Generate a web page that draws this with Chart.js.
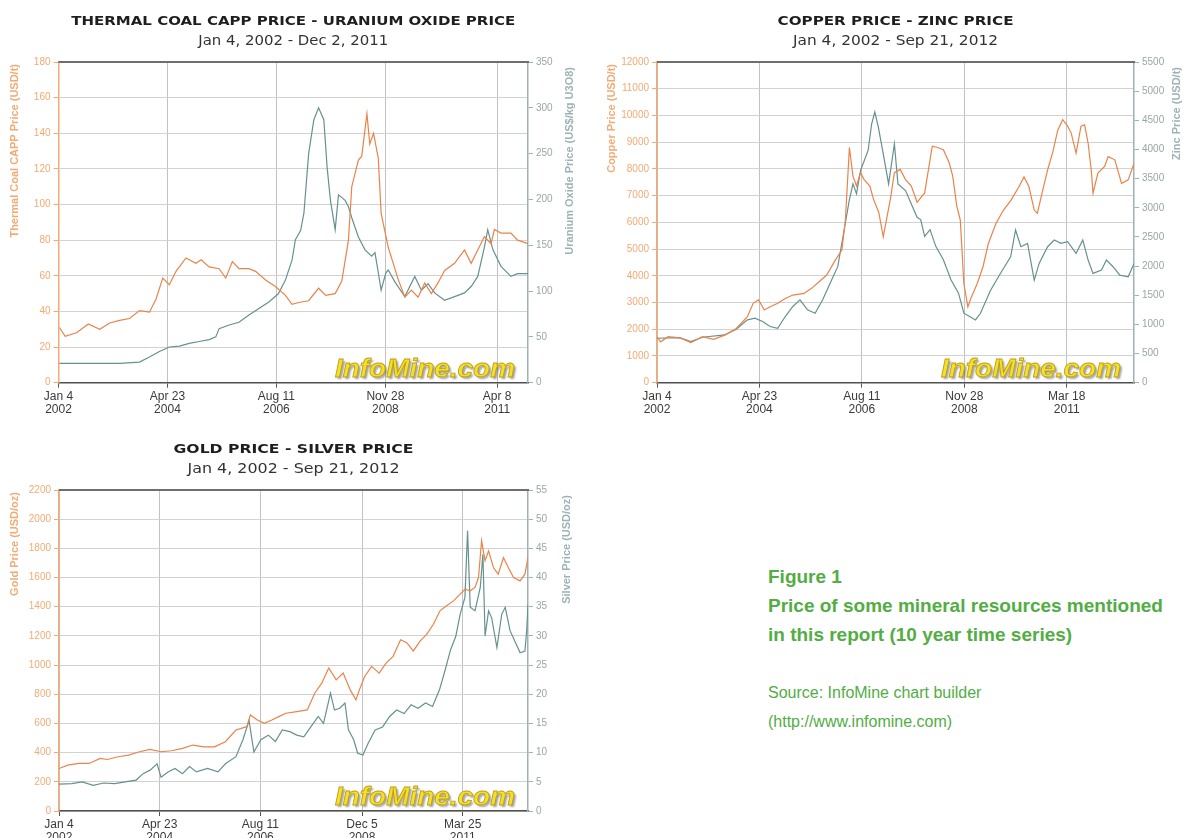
<!DOCTYPE html>
<html>
<head>
<meta charset="utf-8">
<title>Price of some mineral resources</title>
<script src="https://cdn.jsdelivr.net/npm/chart.js@4.4.1/dist/chart.umd.min.js"></script>
<style>
  html, body { margin: 0; padding: 0; background: #fff; }
  body { width: 1183px; height: 838px; position: relative; overflow: hidden; }
  canvas { position: absolute; }
  .cap { position: absolute; left: 768px; color: #52ad44; font-family: "Liberation Sans", Arial, sans-serif; white-space: nowrap; line-height: 29px; }
  .cap.b { font-weight: bold; font-size: 19px; }
  .cap.r { font-size: 16px; }
</style>
</head>
<body>
<canvas id="coalChart" width="590" height="420" style="left:0;top:0"></canvas>
<canvas id="copperChart" width="583" height="420" style="left:600px;top:0"></canvas>
<canvas id="goldChart" width="590" height="418" style="left:0;top:420px"></canvas>

<div class="cap b" style="top:562px">Figure 1</div>
<div class="cap b" style="top:591px">Price of some mineral resources mentioned</div>
<div class="cap b" style="top:620px">in this report (10 year time series)</div>
<div class="cap r" style="top:678px">Source: InfoMine chart builder</div>
<div class="cap r" style="top:707px">(http://www.infomine.com)</div>

<script>
// ---- Datos (fecha en años decimales) ----

// Thermal coal CAPP (USD/t) / uranium oxide (US$/kg)
const coalDates = [2002.03, 2002.15, 2002.39, 2002.64, 2002.88, 2003.09, 2003.3, 2003.51, 2003.72, 2003.93,
  2004.07, 2004.21, 2004.35, 2004.49, 2004.7, 2004.91, 2005.02, 2005.19, 2005.4, 2005.54,
  2005.68, 2005.82, 2006.03, 2006.17, 2006.38, 2006.59, 2006.8, 2006.94, 2007.08, 2007.29,
  2007.5, 2007.65, 2007.85, 2007.99, 2008.13, 2008.2, 2008.34, 2008.41, 2008.52, 2008.58,
  2008.66, 2008.76, 2008.82, 2008.97, 2009.18, 2009.32, 2009.46, 2009.6, 2009.74, 2009.88,
  2010.02, 2010.16, 2010.37, 2010.58, 2010.72, 2010.86, 2011.0, 2011.14, 2011.21, 2011.35,
  2011.56, 2011.7, 2011.92];
const coalPrice = [31, 26, 28, 33, 30, 33.5, 35, 36, 40.5, 39.6,
  47, 58.7, 55, 62.5, 70, 67, 69, 65, 64, 58.7,
  68, 64, 64, 62.5, 57.7, 54, 49, 44, 45, 46,
  53, 49, 50, 57, 80, 110, 125, 127, 151, 134,
  140, 126, 95, 76, 58, 48, 52, 48, 56, 50,
  56, 63, 67, 74.5, 67, 74.5, 82, 78, 86, 84,
  84, 80, 78];

const uraniumDates = [2002.03, 2002.5, 2003.0, 2003.3, 2003.72, 2003.93, 2004.14, 2004.35, 2004.56, 2004.77,
  2004.98, 2005.19, 2005.33, 2005.4, 2005.61, 2005.82, 2006.03, 2006.24, 2006.45, 2006.65,
  2006.8, 2006.94, 2007.01, 2007.12, 2007.19, 2007.29, 2007.4, 2007.5, 2007.61, 2007.68,
  2007.75, 2007.85, 2007.92, 2008.06, 2008.13, 2008.2, 2008.34, 2008.48, 2008.62, 2008.69,
  2008.76, 2008.82, 2008.92, 2008.97, 2009.11, 2009.32, 2009.53, 2009.67, 2009.81, 2009.95,
  2010.16, 2010.37, 2010.58, 2010.72, 2010.86, 2011.0, 2011.07, 2011.18, 2011.35, 2011.56,
  2011.7, 2011.92];
const uraniumPrice = [21, 21, 21, 21, 22.5, 28, 34, 39, 40, 43,
  45, 47, 50, 59, 63, 66, 74, 81, 88, 97,
  112, 134, 156, 166, 185, 250, 287, 300, 287, 235,
  199, 167, 205, 199, 192, 180, 159, 145, 138, 142,
  120, 101, 120, 123, 110, 94, 116, 101, 108, 98,
  90, 94, 98, 105, 116, 148, 167, 145, 127, 116,
  119, 119];

// Copper (USD/t) / zinc (USD/t)
const copperDates = [2002.01, 2002.09, 2002.26, 2002.52, 2002.77, 2003.03, 2003.28, 2003.53, 2003.79, 2004.04,
  2004.17, 2004.29, 2004.42, 2004.55, 2004.72, 2004.89, 2005.06, 2005.31, 2005.48, 2005.65,
  2005.82, 2005.99, 2006.16, 2006.24, 2006.33, 2006.41, 2006.49, 2006.58, 2006.66, 2006.79,
  2006.87, 2006.99, 2007.09, 2007.25, 2007.34, 2007.47, 2007.59, 2007.72, 2007.85, 2008.02,
  2008.19, 2008.31, 2008.44, 2008.57, 2008.65, 2008.74, 2008.82, 2008.9, 2008.99, 2009.07,
  2009.2, 2009.33, 2009.45, 2009.62, 2009.79, 2009.96, 2010.14, 2010.25, 2010.36, 2010.48,
  2010.55, 2010.67, 2010.78, 2010.89, 2011.01, 2011.12, 2011.23, 2011.31, 2011.42, 2011.53,
  2011.61, 2011.69, 2011.76, 2011.8, 2011.91, 2012.06, 2012.14, 2012.29, 2012.44, 2012.59,
  2012.72];
const copperPrice = [1720, 1530, 1720, 1680, 1500, 1720, 1620, 1780, 2030, 2470,
  2970, 3100, 2720, 2840, 2970, 3150, 3280, 3340, 3530, 3780,
  4030, 4520, 4960, 6080, 8800, 7730, 7360, 7860, 7600, 7360,
  6870, 6370, 5460, 6870, 7860, 7980, 7600, 7360, 6750, 7100,
  8850, 8800, 8720, 8230, 7730, 6620, 6080, 3710, 2840, 3210,
  3710, 4340, 5210, 5960, 6460, 6830, 7340, 7700, 7340, 6460,
  6340, 7200, 7960, 8590, 9460, 9840, 9600, 9340, 8590, 9600,
  9650, 8960, 7960, 7090, 7840, 8090, 8460, 8340, 7460, 7590,
  8200];

const zincDates = [2002.01, 2002.52, 2002.77, 2003.03, 2003.53, 2003.79, 2004.04, 2004.21, 2004.38, 2004.55,
  2004.72, 2004.89, 2005.06, 2005.22, 2005.39, 2005.56, 2005.73, 2005.9, 2006.07, 2006.2,
  2006.33, 2006.41, 2006.49, 2006.58, 2006.75, 2006.83, 2006.9, 2006.98, 2007.09, 2007.21,
  2007.34, 2007.42, 2007.59, 2007.72, 2007.85, 2007.93, 2008.02, 2008.14, 2008.27, 2008.44,
  2008.61, 2008.78, 2008.9, 2009.03, 2009.16, 2009.27, 2009.5, 2009.72, 2009.95, 2010.06,
  2010.18, 2010.33, 2010.48, 2010.59, 2010.78, 2010.93, 2011.08, 2011.23, 2011.42, 2011.57,
  2011.69, 2011.8, 2011.99, 2012.1, 2012.25, 2012.4, 2012.59, 2012.72];
const zincPrice = [762, 774, 705, 779, 819, 917, 1077, 1106, 1049, 963,
  934, 1135, 1307, 1421, 1249, 1192, 1421, 1708, 1994, 2567,
  3140, 3410, 3238, 3639, 3983, 4441, 4642, 4384, 3926, 3410,
  4097, 3410, 3295, 3066, 2837, 2797, 2510, 2625, 2338, 2109,
  1765, 1536, 1192, 1135, 1077, 1186, 1587, 1874, 2160, 2619,
  2332, 2390, 1759, 2046, 2332, 2447, 2390, 2418, 2218, 2447,
  2103, 1874, 1931, 2103, 1989, 1845, 1817, 2046];

// Gold (USD/oz) / silver (USD/oz)
const goldDates = [2002.01, 2002.21, 2002.46, 2002.7, 2002.95, 2003.11, 2003.36, 2003.6, 2003.85, 2004.09,
  2004.34, 2004.58, 2004.83, 2005.07, 2005.32, 2005.56, 2005.81, 2006.05, 2006.3, 2006.38,
  2006.54, 2006.7, 2006.87, 2007.03, 2007.19, 2007.44, 2007.68, 2007.85, 2008.01, 2008.17,
  2008.34, 2008.5, 2008.66, 2008.79, 2008.87, 2008.99, 2009.15, 2009.32, 2009.48, 2009.64,
  2009.81, 2009.95, 2010.1, 2010.26, 2010.41, 2010.56, 2010.71, 2010.86, 2011.02, 2011.17,
  2011.28, 2011.4, 2011.51, 2011.59, 2011.66, 2011.74, 2011.82, 2011.93, 2012.04, 2012.16,
  2012.27, 2012.39, 2012.54, 2012.65, 2012.72];
const goldPrice = [291, 314, 326, 326, 360, 353, 372, 383, 406, 422,
  406, 413, 429, 452, 440, 440, 475, 555, 578, 658,
  624, 601, 624, 647, 670, 681, 693, 807, 876, 980,
  899, 945, 830, 762, 830, 922, 991, 945, 1014, 1060,
  1174, 1154, 1097, 1166, 1212, 1280, 1372, 1406, 1440, 1486,
  1520, 1509, 1532, 1600, 1852, 1715, 1783, 1669, 1623, 1737,
  1669, 1600, 1577, 1623, 1737];

const silverDates = [2002.01, 2002.3, 2002.54, 2002.79, 2003.03, 2003.28, 2003.52, 2003.77, 2003.93, 2004.09,
  2004.25, 2004.34, 2004.5, 2004.66, 2004.83, 2004.99, 2005.15, 2005.4, 2005.64, 2005.81,
  2006.05, 2006.21, 2006.35, 2006.46, 2006.62, 2006.79, 2006.95, 2007.11, 2007.28, 2007.44,
  2007.6, 2007.76, 2007.93, 2008.05, 2008.21, 2008.3, 2008.42, 2008.54, 2008.62, 2008.74,
  2008.83, 2008.95, 2009.07, 2009.23, 2009.4, 2009.56, 2009.72, 2009.89, 2010.05, 2010.21,
  2010.38, 2010.54, 2010.7, 2010.83, 2010.95, 2011.07, 2011.17, 2011.28, 2011.34, 2011.4,
  2011.51, 2011.63, 2011.69, 2011.74, 2011.82, 2011.89, 2012.01, 2012.12, 2012.2, 2012.31,
  2012.42, 2012.54, 2012.65, 2012.69, 2012.72];
const silverPrice = [4.6, 4.7, 5.0, 4.4, 4.8, 4.7, 5.0, 5.3, 6.4, 7.0,
  8.1, 5.8, 6.7, 7.3, 6.4, 7.6, 6.7, 7.3, 6.7, 8.1,
  9.3, 12.2, 15.5, 10.1, 12.2, 13.0, 11.9, 13.9, 13.6, 13.0,
  12.7, 14.4, 16.2, 15.0, 20.2, 17.3, 17.6, 18.5, 13.9, 12.2,
  9.9, 9.6, 11.6, 13.9, 14.4, 16.2, 17.3, 16.7, 18.2, 17.6,
  18.5, 17.9, 20.8, 24.2, 27.6, 29.9, 33.7, 36.6, 48, 34.9,
  34.3, 38.3, 44, 30, 34.3, 33.1, 28, 33.7, 34.9, 30.9,
  29.1, 27.1, 27.4, 30.9, 35.4];

// ---- Marcas del eje x ----
const coalTicks = [2002.01, 2004.31, 2006.61, 2008.91, 2011.27];
const coalTickLabels = [['Jan 4', '2002'], ['Apr 23', '2004'], ['Aug 11', '2006'], ['Nov 28', '2008'], ['Apr 8', '2011']];
const copperTicks = [2002.01, 2004.31, 2006.61, 2008.91, 2011.21];
const copperTickLabels = [['Jan 4', '2002'], ['Apr 23', '2004'], ['Aug 11', '2006'], ['Nov 28', '2008'], ['Mar 18', '2011']];
const goldTicks = [2002.01, 2004.31, 2006.61, 2008.93, 2011.23];
const goldTickLabels = [['Jan 4', '2002'], ['Apr 23', '2004'], ['Aug 11', '2006'], ['Dec 5', '2008'], ['Mar 25', '2011']];

// ---- Colores ----
const ORANGE      = '#e9834a';
const TEAL        = '#66918f';
const ORANGE_AXIS = '#f2aa74';
const TEAL_AXIS   = '#9db2b4';
const GRID        = '#d2d2d2';

const pts = (xs, ys) => xs.map((x, i) => ({ x, y: ys[i] }));

// texto centrado, ajustado a un ancho dado
function fitText(ctx, text, x, y, width, font, color) {
    ctx.save();
    ctx.font = font;
    const w = ctx.measureText(text).width;
    ctx.translate(x, y);
    ctx.scale(width / w, 1);
    ctx.fillStyle = color;
    ctx.textAlign = 'center';
    ctx.textBaseline = 'middle';
    ctx.fillText(text, 0, 0);
    ctx.restore();
}

// título vertical (se lee de abajo a arriba), terminando en yTop
function vText(ctx, text, x, yTop, color) {
    ctx.save();
    ctx.font = 'bold 11px "Liberation Sans"';
    ctx.fillStyle = color;
    ctx.translate(x, yTop);
    ctx.rotate(-Math.PI / 2);
    ctx.textAlign = 'right';
    ctx.textBaseline = 'middle';
    ctx.fillText(text, 0, 0);
    ctx.restore();
}

const decor = {
    id: 'decor',
    afterDraw(chart, args, o) {
        const ctx = chart.ctx, a = chart.chartArea;
        const cx = (a.left + a.right) / 2;
        ctx.save();
        ctx.strokeStyle = '#6e6e6e';
        ctx.lineWidth = 2;
        ctx.beginPath();
        ctx.moveTo(a.left, a.top);
        ctx.lineTo(a.right + 1, a.top);
        ctx.stroke();
        ctx.restore();

        fitText(ctx, o.title, cx, a.top - 40, o.titleW, 'bold 13px "DejaVu Sans"', '#1e1e1e');
        fitText(ctx, o.subtitle, cx, a.top - 21, o.subW, '14px "DejaVu Sans"', '#333');
        vText(ctx, o.leftTitle, o.leftX, a.top + 2, ORANGE_AXIS);
        vText(ctx, o.rightTitle, o.rightX, a.top + 5, TEAL_AXIS);

        // marca de agua
        ctx.save();
        ctx.font = 'bold italic 25px "Liberation Sans"';
        const w = ctx.measureText('InfoMine.com').width;
        ctx.translate(a.right - 13 - 180, a.bottom - 6);
        ctx.scale(180 / w, 1);
        ctx.shadowColor = 'rgba(70,70,70,0.5)';
        ctx.shadowOffsetX = 2;
        ctx.shadowOffsetY = 2;
        ctx.shadowBlur = 2;
        ctx.fillStyle = '#f2df30';
        ctx.fillText('InfoMine.com', 0, 0);
        ctx.shadowColor = 'transparent';
        ctx.lineWidth = 0.8;
        ctx.strokeStyle = '#bf9f10';
        ctx.strokeText('InfoMine.com', 0, 0);
        ctx.restore();
    }
};

const tickFont = { family: 'Liberation Sans', size: 10 };

function priceChart(id, c) {
    return new Chart(document.getElementById(id), {
        type: 'line',
        data: {
            datasets: [
                { data: pts(c.leftDates, c.leftPrice), yAxisID: 'y', borderColor: ORANGE },
                { data: pts(c.rightDates, c.rightPrice), yAxisID: 'y1', borderColor: TEAL }
            ]
        },
        plugins: [decor],
        options: {
            responsive: false,
            animation: false,
            devicePixelRatio: 1,
            layout: { padding: { top: c.top, left: 0, right: 0, bottom: 0 } },
            elements: {
                line: { borderWidth: 1.2, tension: 0, fill: false },
                point: { radius: 0 }
            },
            plugins: {
                legend: { display: false },
                tooltip: { enabled: false },
                decor: c.decor
            },
            scales: {
                x: {
                    type: 'linear',
                    min: 2002.01,
                    max: c.xMax,
                    afterBuildTicks: s => { s.ticks = c.ticks.map(v => ({ value: v })); },
                    afterFit: s => { s.height = c.xH; },
                    grid: { color: '#c2c2c2', tickLength: 5, tickColor: '#555' },
                    border: { color: '#505050', width: 1.5 },
                    ticks: {
                        autoSkip: false, maxRotation: 0, padding: 2, color: '#3a3a3a',
                        font: { family: 'Liberation Sans', size: 12, lineHeight: 1.1 },
                        callback: (v, i) => c.tickLabels[i]
                    }
                },
                y: {
                    position: 'left',
                    min: 0, max: c.leftMax,
                    afterFit: s => { s.width = c.leftW; },
                    grid: { color: GRID, tickLength: 5, tickColor: ORANGE_AXIS },
                    border: { color: ORANGE_AXIS, width: 1.5 },
                    ticks: { stepSize: c.leftStep, padding: 3, color: ORANGE_AXIS, font: tickFont, callback: v => String(v) }
                },
                y1: {
                    position: 'right',
                    min: 0, max: c.rightMax,
                    afterFit: s => { s.width = c.rightW; },
                    grid: { drawOnChartArea: false, tickLength: 5, tickColor: TEAL_AXIS },
                    border: { color: TEAL_AXIS, width: 1.5 },
                    ticks: { stepSize: c.rightStep, padding: 3, color: '#9aa6a7', font: tickFont, callback: v => String(v) }
                }
            }
        }
    });
}

// 1. Carbón térmico - óxido de uranio
priceChart('coalChart', {
    leftDates: coalDates, leftPrice: coalPrice, rightDates: uraniumDates, rightPrice: uraniumPrice,
    xMax: 2011.92, ticks: coalTicks, tickLabels: coalTickLabels,
    leftMax: 180, leftStep: 20, rightMax: 350, rightStep: 50,
    top: 62, xH: 37.3, leftW: 58.5, rightW: 62,
    decor: {
        title: 'THERMAL COAL CAPP PRICE - URANIUM OXIDE PRICE', titleW: 444,
        subtitle: 'Jan 4, 2002 - Dec 2, 2011', subW: 190,
        leftTitle: 'Thermal Coal CAPP Price (USD/t)', leftX: 15,
        rightTitle: 'Uranium Oxide Price (US$/kg U3O8)', rightX: 570
    }
});

// 2. Cobre - zinc
priceChart('copperChart', {
    leftDates: copperDates, leftPrice: copperPrice, rightDates: zincDates, rightPrice: zincPrice,
    xMax: 2012.72, ticks: copperTicks, tickLabels: copperTickLabels,
    leftMax: 12000, leftStep: 1000, rightMax: 5500, rightStep: 500,
    top: 62, xH: 37.3, leftW: 57, rightW: 49,
    decor: {
        title: 'COPPER PRICE - ZINC PRICE', titleW: 236,
        subtitle: 'Jan 4, 2002 - Sep 21, 2012', subW: 205,
        leftTitle: 'Copper Price (USD/t)', leftX: 12,
        rightTitle: 'Zinc Price (USD/t)', rightX: 577
    }
});

// 3. Oro - plata
priceChart('goldChart', {
    leftDates: goldDates, leftPrice: goldPrice, rightDates: silverDates, rightPrice: silverPrice,
    xMax: 2012.72, ticks: goldTicks, tickLabels: goldTickLabels,
    leftMax: 2200, leftStep: 200, rightMax: 55, rightStep: 5,
    top: 70, xH: 27, leftW: 59, rightW: 62,
    decor: {
        title: 'GOLD PRICE - SILVER PRICE', titleW: 240,
        subtitle: 'Jan 4, 2002 - Sep 21, 2012', subW: 212,
        leftTitle: 'Gold Price (USD/oz)', leftX: 15,
        rightTitle: 'Silver Price (USD/oz)', rightX: 567
    }
});
</script>
</body>
</html>
